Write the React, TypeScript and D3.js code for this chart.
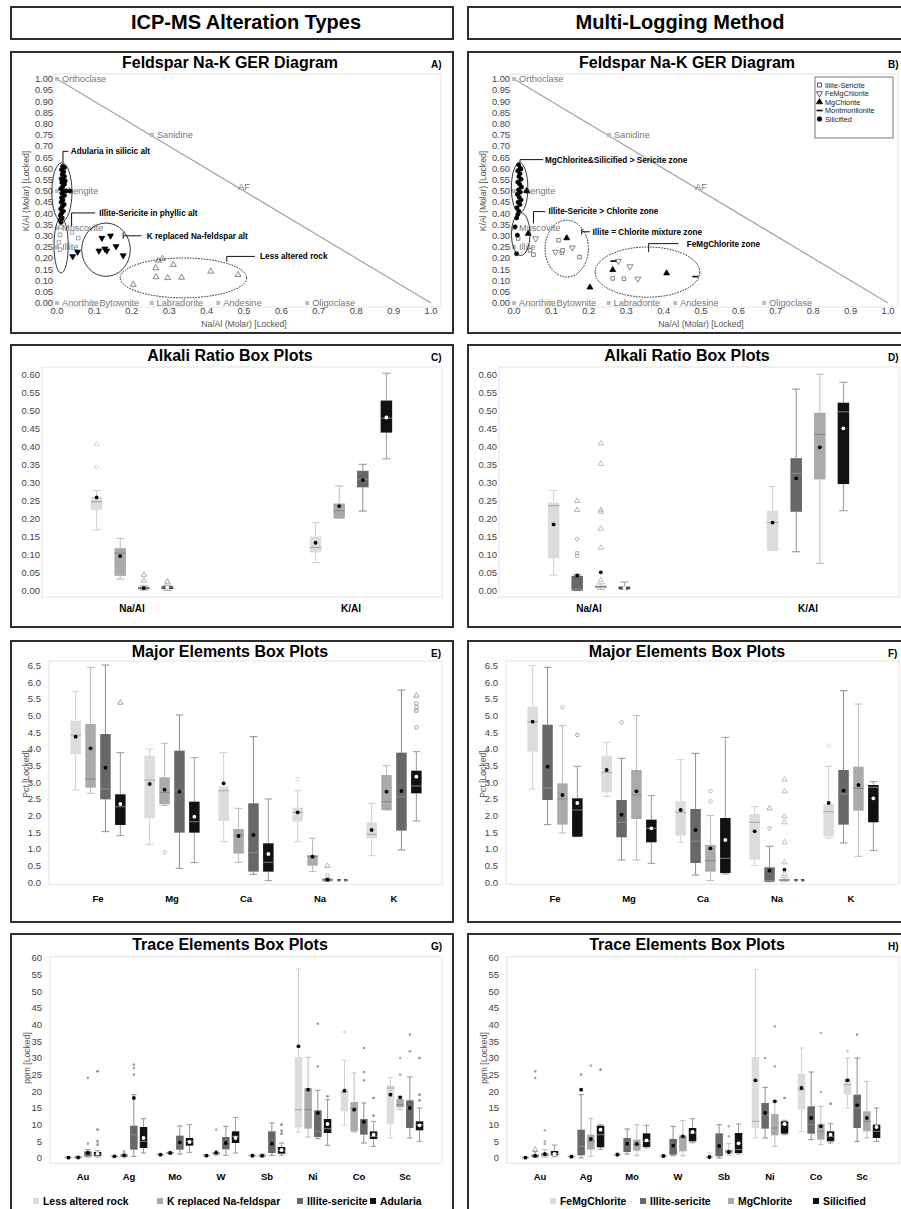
import React from 'react';
import * as d3 from 'd3';

const FONT = "'Liberation Sans', Arial, Helvetica, sans-serif";

// ---------- categories, series, tick labels
const icpSeries = ['Less altered rock', 'K replaced Na-feldspar', 'Illite-sericite', 'Adularia'];
const logSeries = ['FeMgChlorite', 'Illite-sericite', 'MgChlorite', 'Silicified'];
const alkaliCats = ['Na/Al', 'K/Al'];
const majorCats = ['Fe', 'Mg', 'Ca', 'Na', 'K'];
const traceCats = ['Au', 'Ag', 'Mo', 'W', 'Sb', 'Ni', 'Co', 'Sc'];

const gerXTicks = [0, 0.1, 0.2, 0.3, 0.4, 0.5, 0.6, 0.7, 0.8, 0.9, 1.0];
const gerYTicks = [0, 0.05, 0.1, 0.15, 0.2, 0.25, 0.3, 0.35, 0.4, 0.45, 0.5, 0.55, 0.6, 0.65, 0.7, 0.75, 0.8, 0.85, 0.9, 0.95, 1.0];
const alkaliTicks = [0, 0.05, 0.1, 0.15, 0.2, 0.25, 0.3, 0.35, 0.4, 0.45, 0.5, 0.55, 0.6];
const majorTicks = [0, 0.5, 1, 1.5, 2, 2.5, 3, 3.5, 4, 4.5, 5, 5.5, 6, 6.5];
const traceTicks = [0, 5, 10, 15, 20, 25, 30, 35, 40, 45, 50, 55, 60];

// ---------- feldspar end members  [name, Na/Al, K/Al]
const minerals: [string, number, number][] = [
  ['Orthoclase', 0, 1], ['Sanidine', 0.254, 0.75], ['Phengite', 0, 0.5], ['Muscovite', 0, 0.333],
  ['Illite', 0, 0.25], ['Anorthite', 0, 0], ['Bytownite', 0.1, 0], ['Labradorite', 0.253, 0],
  ['Andesine', 0.431, 0], ['Oligoclase', 0.669, 0],
];

// ---------- GER scatter, ICP-MS (panel A)  [Na/Al, K/Al]
const adulariaPts = [
  [0.015, 0.61], [0.02, 0.605], [0.012, 0.595], [0.018, 0.585], [0.014, 0.575], [0.02, 0.565], [0.011, 0.555],
  [0.017, 0.548], [0.013, 0.538], [0.02, 0.53], [0.015, 0.52], [0.01, 0.51], [0.018, 0.5], [0.013, 0.49],
  [0.02, 0.48], [0.012, 0.47], [0.016, 0.46], [0.011, 0.45], [0.019, 0.44], [0.014, 0.43], [0.01, 0.42],
  [0.017, 0.41], [0.012, 0.4], [0.009, 0.39], [0.014, 0.38], [0.008, 0.37], [0.011, 0.36], [0.035, 0.5],
  [0.022, 0.545], [0.025, 0.5],
];
const illiteSericitePtsA = [[0.008, 0.305], [0.008, 0.238], [0.04, 0.315], [0.057, 0.29], [0.005, 0.27], [0.01, 0.34]];
const kReplacedPts = [
  [0.042, 0.208], [0.055, 0.228], [0.112, 0.233], [0.12, 0.29], [0.128, 0.242], [0.133, 0.233],
  [0.143, 0.3], [0.158, 0.253], [0.177, 0.212],
];
const lessAlteredPts = [
  [0.264, 0.156], [0.265, 0.116], [0.296, 0.112], [0.311, 0.171], [0.333, 0.114], [0.411, 0.141],
  [0.484, 0.126], [0.271, 0.19], [0.282, 0.198], [0.204, 0.082],
];

// ---------- GER scatter, multi-logging (panel B)
const silicifiedPts = [
  [0.012, 0.617], [0.018, 0.6], [0.01, 0.59], [0.016, 0.578], [0.013, 0.565], [0.019, 0.552], [0.01, 0.54],
  [0.015, 0.53], [0.02, 0.518], [0.012, 0.505], [0.017, 0.495], [0.009, 0.485], [0.014, 0.472], [0.019, 0.46],
  [0.011, 0.45], [0.016, 0.44], [0.008, 0.425], [0.013, 0.41], [0.01, 0.395], [0.007, 0.38],
  [0.003, 0.34], [0.009, 0.303], [0.007, 0.22],
];
const mgChloritePts = [[0.016, 0.6], [0.034, 0.5], [0.038, 0.31], [0.141, 0.29], [0.264, 0.148], [0.408, 0.133], [0.203, 0.07]];
const montmorillonitePts = [[0.266, 0.187], [0.485, 0.118]];
const illiteSericitePtsB = [
  [0.119, 0.28], [0.128, 0.225], [0.175, 0.205], [0.264, 0.11], [0.294, 0.108], [0.043, 0.235],
  [0.052, 0.216], [0.011, 0.288], [0.13, 0.235],
];
const feMgChloritePts = [[0.058, 0.288], [0.111, 0.228], [0.156, 0.247], [0.279, 0.187], [0.31, 0.163], [0.331, 0.108]];

// ---------- box statistics  [cat][series] = [low, q1, median, q3, high, mean]
type Stat = number[];
const alkaliIcp: Stat[][] = [
  [[0.17, 0.225, 0.248, 0.262, 0.279, 0.26], [0.033, 0.042, 0.105, 0.119, 0.146, 0.097], [0.003, 0.005, 0.008, 0.011, 0.014, 0.008], [0.002, 0.006, 0.01, 0.013, 0.016, 0.01]],
  [[0.079, 0.107, 0.121, 0.151, 0.19, 0.134], [0.202, 0.202, 0.223, 0.243, 0.292, 0.236], [0.222, 0.288, 0.31, 0.334, 0.352, 0.308], [0.367, 0.44, 0.48, 0.529, 0.605, 0.482]],
];
const alkaliLog: Stat[][] = [
  [[0.044, 0.091, 0.237, 0.246, 0.279, 0.185], [0.001, 0.001, 0.005, 0.042, 0.045, 0.043], [0.004, 0.008, 0.012, 0.015, 0.02, 0.052], [0.004, 0.005, 0.008, 0.012, 0.025, 0.008]],
  [[0.112, 0.112, 0.19, 0.223, 0.29, 0.19], [0.109, 0.22, 0.327, 0.369, 0.561, 0.313], [0.077, 0.31, 0.435, 0.495, 0.602, 0.399], [0.223, 0.297, 0.498, 0.523, 0.58, 0.452]],
];
const majorIcp: Stat[][] = [
  [[2.77, 3.84, 4.42, 4.85, 5.72, 4.37], [2.67, 2.84, 3.1, 4.75, 6.45, 4.02], [1.52, 2.49, 2.8, 4.45, 6.52, 3.44], [1.4, 1.72, 2.27, 2.64, 3.89, 2.35]],
  [[1.14, 1.92, 3.07, 3.8, 4.0, 2.95], [2.3, 2.34, 2.7, 3.15, 4.17, 2.78], [0.42, 1.49, 2.75, 3.95, 5.02, 2.72], [0.59, 1.49, 1.82, 2.42, 3.74, 1.97]],
  [[1.22, 1.84, 2.75, 2.87, 3.89, 2.97], [0.6, 0.86, 1.42, 1.6, 2.22, 1.39], [0.24, 0.32, 0.89, 2.37, 4.37, 1.42], [0.05, 0.32, 0.6, 1.17, 2.5, 0.85]],
  [[1.22, 1.82, 2.1, 2.24, 2.75, 2.1], [0.32, 0.5, 0.77, 0.82, 1.32, 0.77], [0.03, 0.05, 0.07, 0.1, 0.12, 0.08], [0.03, 0.04, 0.05, 0.06, 0.07, 0.05]],
  [[0.8, 1.32, 1.44, 1.8, 2.37, 1.57], [2.17, 2.17, 2.42, 3.22, 3.5, 2.72], [0.97, 1.55, 2.57, 3.89, 5.77, 2.74], [1.84, 2.67, 2.89, 3.35, 3.92, 3.17]],
];
const majorLog: Stat[][] = [
  [[2.8, 3.92, 4.82, 5.27, 6.5, 4.82], [1.73, 2.47, 2.83, 4.73, 6.45, 3.47], [1.48, 1.73, 2.5, 2.97, 4.7, 2.62], [1.37, 1.37, 2.17, 2.52, 3.48, 2.38]],
  [[2.58, 2.7, 3.3, 3.8, 4.2, 3.37], [0.67, 1.35, 1.8, 2.47, 3.72, 2.03], [0.67, 1.9, 2.62, 3.37, 5.0, 2.73], [0.57, 1.2, 1.62, 1.88, 2.6, 1.62]],
  [[1.2, 1.4, 2.1, 2.43, 3.68, 2.17], [0.22, 0.58, 1.23, 2.2, 3.87, 1.57], [0.05, 0.32, 0.65, 1.12, 2.0, 1.02], [0.25, 0.28, 0.72, 1.93, 4.35, 1.27]],
  [[0.5, 0.68, 1.8, 2.05, 2.27, 1.53], [0.02, 0.02, 0.05, 0.45, 1.08, 0.35], [0.02, 0.04, 0.07, 0.1, 0.15, 0.38], [0.03, 0.04, 0.05, 0.06, 0.07, 0.05]],
  [[1.33, 1.38, 2.12, 2.35, 3.48, 2.38], [1.18, 1.73, 2.65, 3.37, 5.75, 2.75], [0.78, 2.15, 2.82, 3.47, 5.35, 2.92], [0.95, 1.8, 2.85, 2.92, 3.02, 2.52]],
];
const traceIcp: Stat[][] = [
  [[0, 0.05, 0.1, 0.15, 0.2, 0.1], [0.05, 0.1, 0.15, 0.25, 0.3, 0.15], [0.3, 0.5, 1.0, 2.0, 2.5, 1.5], [0.3, 0.6, 1.0, 1.8, 2.2, 1.3]],
  [[0.2, 0.3, 0.5, 0.7, 0.9, 0.5], [0.2, 0.3, 0.7, 1.2, 1.5, 0.8], [0.5, 2.5, 7, 9.7, 19, 18], [1.5, 3, 5, 9.3, 11.8, 6]],
  [[0.7, 0.8, 1.0, 1.2, 1.3, 1.0], [1.2, 1.3, 1.5, 1.8, 1.9, 1.5], [1.2, 2.5, 5, 6.7, 9.6, 4.7], [1.7, 3.7, 5, 6, 10, 4.8]],
  [[0.4, 0.5, 0.7, 0.9, 1.0, 0.7], [0.8, 1.0, 1.4, 1.8, 2.3, 1.6], [0.8, 2.6, 4.7, 6.3, 9.5, 4.5], [1.5, 4.5, 6.5, 8, 12.2, 6]],
  [[0.3, 0.5, 0.7, 0.9, 1.2, 0.7], [0.3, 0.5, 0.7, 1.0, 1.2, 0.7], [0.8, 1.5, 4.5, 8, 10.5, 4.3], [0.8, 1.3, 2.2, 3.3, 4.5, 2.4]],
  [[7.8, 9.2, 14.5, 30.3, 56.7, 33.5], [6.3, 8.8, 14.5, 21, 30.2, 20.5], [5.8, 6.3, 8, 14.3, 20.3, 13.5], [3.8, 7.5, 8.8, 11.7, 17.5, 10.2]],
  [[9.8, 14, 19.8, 20.3, 29.3, 20.2], [7.8, 8, 15, 16.8, 25.5, 14.5], [4.5, 7, 10.5, 11.7, 16.5, 10.8], [3.5, 5.7, 6.5, 8, 11, 7]],
  [[6, 10.2, 21, 21.8, 24.2, 19], [14.5, 15.2, 16, 17.7, 18.5, 18.2], [6, 9, 15, 17.3, 24.3, 15], [5, 8.3, 10, 11, 15, 9.8]],
];
const traceLog: Stat[][] = [
  [[0, 0.05, 0.1, 0.15, 0.2, 0.1], [0.1, 0.3, 0.6, 1.0, 2.0, 0.7], [0.2, 0.5, 0.9, 1.5, 2.5, 1.2], [0.4, 0.8, 1.3, 2.1, 3.9, 1.2]],
  [[0.1, 0.2, 0.4, 0.6, 0.8, 0.4], [0, 0.8, 3.5, 8.5, 19, 20.5], [0.5, 2.5, 5, 7, 11.8, 5.7], [2.6, 3.2, 7, 9.7, 10, 8.5]],
  [[0.6, 0.8, 1.0, 1.2, 1.7, 1.0], [1.2, 1.8, 4.5, 6, 8.7, 4.3], [0.7, 2.2, 4, 5.5, 10, 4.2], [3, 3.3, 5, 7.4, 9.8, 5.3]],
  [[0.3, 0.4, 0.6, 0.9, 1.1, 0.6], [0.7, 1, 3.5, 5.7, 9.5, 3.7], [0.7, 2, 6, 6.8, 11.2, 6.5], [4.6, 5, 7.5, 9, 11.8, 7.8]],
  [[0.1, 0.2, 0.3, 0.5, 1.5, 0.3], [0, 0.5, 3.5, 7.4, 10, 3.6], [0.8, 1.3, 2, 2.5, 4.3, 1.8], [1.2, 1.5, 2.5, 7.5, 10.2, 4.4]],
  [[6, 9, 11, 30.3, 56.5, 23.3], [6, 8.8, 13, 16.5, 21.2, 13.5], [3.5, 6.8, 9, 13.2, 17, 17], [7, 7.3, 10, 11, 11.3, 10.2]],
  [[8, 14.5, 20.5, 25.3, 33, 21], [5.5, 7.3, 10, 15.5, 25.8, 12], [4, 5.5, 8, 10.3, 15.5, 9.5], [4.5, 5, 6.5, 8, 10.3, 7]],
  [[15, 19, 22, 24, 30, 23.3], [5, 9, 15, 19, 30, 15.8], [6, 8, 11, 14, 23, 12], [5, 6, 8, 10, 15, 9.3]],
];

// ---------- outliers  [category, series index, value, marker]
type Outlier = [string, number, number, string];
const alkaliIcpOut: Outlier[] = [
  ['Na/Al', 0, 0.408, 'tri'], ['Na/Al', 0, 0.345, 'circ'], ['Na/Al', 2, 0.045, 'tri'], ['Na/Al', 2, 0.029, 'tri'], ['Na/Al', 3, 0.026, 'tri'],
];
const alkaliLogOut: Outlier[] = [
  ['Na/Al', 1, 0.25, 'tri'], ['Na/Al', 1, 0.225, 'tri'], ['Na/Al', 1, 0.144, 'circ'], ['Na/Al', 1, 0.105, 'sq'], ['Na/Al', 1, 0.097, 'circ'],
  ['Na/Al', 2, 0.41, 'tri'], ['Na/Al', 2, 0.353, 'tri'], ['Na/Al', 2, 0.225, 'tri'], ['Na/Al', 2, 0.22, 'tri'], ['Na/Al', 2, 0.173, 'tri'],
  ['Na/Al', 2, 0.12, 'tri'], ['Na/Al', 2, 0.03, 'tri'],
];
const majorIcpOut: Outlier[] = [
  ['Fe', 3, 5.39, 'tri'], ['Mg', 1, 0.9, 'circ'], ['Na', 0, 3.1, 'circ'], ['Na', 2, 0.49, 'tri'], ['Na', 2, 0.2, 'circ'],
  ['K', 3, 5.6, 'tri'], ['K', 3, 5.37, 'circ'], ['K', 3, 5.25, 'circ'], ['K', 3, 5.15, 'sq'], ['K', 3, 4.65, 'circ'],
];
const majorLogOut: Outlier[] = [
  ['Fe', 2, 5.25, 'circ'], ['Fe', 3, 4.42, 'circ'], ['Mg', 1, 4.8, 'circ'], ['Ca', 2, 2.73, 'circ'], ['Ca', 2, 2.43, 'circ'],
  ['Na', 1, 2.22, 'tri'], ['Na', 1, 1.62, 'circ'], ['Na', 2, 3.08, 'tri'], ['Na', 2, 2.73, 'tri'], ['Na', 2, 1.98, 'tri'],
  ['Na', 2, 1.8, 'tri'], ['Na', 2, 1.2, 'tri'], ['Na', 2, 0.6, 'tri'], ['Na', 2, 0.25, 'tri'], ['K', 0, 4.1, 'circ'],
];
const traceIcpOut: Outlier[] = [
  ['Au', 2, 24, 'dot'], ['Au', 2, 4.3, 'dot'], ['Au', 3, 26, 'dot'], ['Au', 3, 8.5, 'dot'], ['Au', 3, 5, 'dot'], ['Au', 3, 4, 'dot'],
  ['Ag', 1, 2, 'dot'], ['Ag', 2, 28, 'dot'], ['Ag', 2, 27, 'dot'], ['Ag', 2, 25, 'dot'], ['W', 1, 8.5, 'dot'],
  ['Sb', 3, 10, 'dot'], ['Sb', 3, 8.2, 'dot'], ['Sb', 3, 7.3, 'dot'], ['Ni', 2, 40.3, 'dot'], ['Ni', 2, 27.5, 'dot'],
  ['Ni', 3, 18.5, 'dot'], ['Co', 0, 37.8, 'dot'], ['Co', 2, 33, 'dot'], ['Co', 2, 25.8, 'dot'], ['Co', 2, 23.3, 'dot'],
  ['Co', 3, 18, 'dot'], ['Co', 3, 12.7, 'dot'], ['Sc', 1, 30, 'dot'], ['Sc', 1, 25, 'dot'], ['Sc', 2, 37, 'dot'],
  ['Sc', 2, 32, 'dot'], ['Sc', 3, 30, 'dot'], ['Sc', 3, 19, 'dot'], ['Sc', 3, 17.3, 'dot'],
];
const traceLogOut: Outlier[] = [
  ['Au', 1, 26, 'dot'], ['Au', 1, 24, 'dot'], ['Au', 1, 2.5, 'tri'], ['Au', 2, 8.3, 'dot'], ['Au', 2, 5, 'dot'], ['Au', 2, 4.2, 'dot'],
  ['Ag', 1, 25, 'dot'], ['Ag', 2, 27.7, 'dot'], ['Ag', 3, 26.5, 'dot'], ['Sb', 2, 9.5, 'dot'], ['Sb', 2, 6.5, 'dot'],
  ['Ni', 1, 30, 'dot'], ['Ni', 2, 39.5, 'dot'], ['Ni', 2, 27.5, 'dot'], ['Ni', 3, 18, 'dot'], ['Co', 2, 37.5, 'dot'],
  ['Co', 2, 19.8, 'dot'], ['Co', 3, 16.3, 'dot'], ['Sc', 0, 32, 'dot'], ['Sc', 1, 37, 'dot'],
];

// ---------- grey shades
const LIGHT = { fill: '#dcdcdc', whisker: '#d0d0d0', median: '#aaaaaa', mean: '#000', out: '#cbcbcb' };
const MID = { fill: '#aaaaaa', whisker: '#bcbcbc', median: '#888888', mean: '#000', out: '#b0b0b0' };
const DARK = { fill: '#686868', whisker: '#8e8e8e', median: '#8a8a8a', mean: '#000', out: '#a0a0a0' };
const BLACK = { fill: '#111111', whisker: '#9a9a9a', median: '#777777', mean: '#fff', out: '#8a8a8a' };
const icpShades = [LIGHT, MID, DARK, BLACK];
const logShades = [LIGHT, DARK, MID, BLACK];

const symPath = (type: any, size: number) => d3.symbol().type(type).size(size)() as string;

function Marker({ x, y, shape, color, filled }: any) {
  if (shape === 'circ') return <circle cx={x} cy={y} r={1.8} fill="none" stroke={color} strokeWidth={0.8} />;
  if (shape === 'dot') return <circle cx={x} cy={y} r={1.3} fill={color} />;
  const type = shape === 'sq' ? d3.symbolSquare : d3.symbolTriangle;
  return (
    <path d={symPath(type, shape === 'sq' ? 10 : 12)} transform={`translate(${x},${y})`}
      fill={filled ? color : 'none'} stroke={color} strokeWidth={0.8} />
  );
}

function Frame({ w, h }: { w: number; h: number }) {
  return <rect x={0} y={0} width={w} height={h} fill="#fff" stroke="#2e2e2e" strokeWidth={2} />;
}

function Title({ text, letter }: { text: string; letter: string }) {
  return (
    <g fontFamily={FONT} fontWeight="bold">
      <text x={219} y={16} fontSize={16} textAnchor="middle">{text}</text>
      <text x={420} y={16} fontSize={10}>{letter}</text>
    </g>
  );
}

// ---------- GER diagram panel
function GerPanel({ ox, oy, letter, groups, ellipses, callouts, legend }: any) {
  const x = d3.scaleLinear().domain([0, 1]).range([46, 420]);
  const y = d3.scaleLinear().domain([0, 1]).range([251, 27]);
  const line = d3.line<number[]>().x(d => x(d[0])).y(d => y(d[1]));
  const shapeType = (s: string) => (s === 'circle' ? d3.symbolCircle : s === 'square' ? d3.symbolSquare : d3.symbolTriangle);
  return (
    <g transform={`translate(${ox},${oy})`} fontFamily={FONT}>
      <Frame w={442} h={281} />
      <rect x={42} y={22} width={388} height={233} fill="none" stroke="#e4e4e4" />
      <Title text="Feldspar Na-K GER Diagram" letter={letter} />
      <line x1={x(0)} y1={y(1)} x2={x(1)} y2={y(0)} stroke="#a3a3a3" strokeWidth={1.2} />
      <text x={x(0.484)} y={y(0.52)} dy="0.35em" fontSize={9.5} fill="#777">AF</text>
      {minerals.map(([name, a, b]) => (
        <g key={name}>
          <rect x={x(a) - 2} y={y(b) - 2} width={4} height={4} fill="#bdbdbd" />
          <text x={x(a) + 5} y={y(b)} dy="0.3em" fontSize={9.2} fill="#777">{name}</text>
        </g>
      ))}
      {groups.map((gr: any, gi: number) => gr.pts.map((p: number[], i: number) => {
        const px = x(p[0]), py = y(p[1]);
        if (gr.shape === 'dash') return <line key={gi + '-' + i} x1={px - 3} x2={px + 3} y1={py} y2={py} stroke="#000" strokeWidth={1.6} />;
        return (
          <path key={gi + '-' + i} d={symPath(shapeType(gr.shape), gr.size)}
            transform={`translate(${px},${py})${gr.down ? ' rotate(180)' : ''}`}
            fill={gr.fill} stroke={gr.stroke} strokeWidth={0.8} />
        );
      }))}
      {ellipses.map((e: any, i: number) => (
        <ellipse key={i} cx={x(e.cx)} cy={y(e.cy)} rx={x(e.rx) - x(0)} ry={y(0) - y(e.ry)}
          fill="none" stroke="#222" strokeWidth={e.dash ? 1 : 0.9} strokeDasharray={e.dash || undefined} />
      ))}
      {callouts.map((c: any, i: number) => (
        <g key={i}>
          {c.lines.map((l: number[][], j: number) => (
            <path key={j} d={line(l) as string} fill="none" stroke="#111" strokeWidth={1} />
          ))}
          <text x={x(c.at[0])} y={y(c.at[1])} dy="0.35em" fontSize={8.2} fontWeight="bold">{c.label}</text>
        </g>
      ))}
      {gerYTicks.map(t => (
        <text key={t} x={42} y={y(t)} dy="0.35em" textAnchor="end" fontSize={9.3} fill="#444">{d3.format('.2f')(t)}</text>
      ))}
      {gerXTicks.map(t => (
        <text key={t} x={x(t)} y={262} textAnchor="middle" fontSize={9.3} fill="#444">{d3.format('.1f')(t)}</text>
      ))}
      <text x={x(0.5)} y={275} textAnchor="middle" fontSize={8.6} fill="#555">Na/Al (Molar) [Locked]</text>
      <text transform={`translate(15,${y(0.5)}) rotate(-90)`} textAnchor="middle" dy="0.35em" fontSize={8.6} fill="#555">K/Al (Molar) [Locked]</text>
      {legend && (
        <g>
          <rect x={347} y={25} width={78} height={61} fill="#fff" stroke="#555" strokeWidth={0.8} />
          {legend.map((it: any, i: number) => {
            const ly = 33 + i * 8.5;
            const mark = it.shape === 'dash'
              ? <line x1={348.5} x2={354.5} y1={ly} y2={ly} stroke="#000" strokeWidth={1.6} />
              : <path d={symPath(shapeType(it.shape), 16)} transform={`translate(351.5,${ly})${it.down ? ' rotate(180)' : ''}`} fill={it.fill} stroke={it.stroke} strokeWidth={0.8} />;
            return (
              <g key={it.label}>
                {mark}
                <text x={357} y={ly} dy="0.35em" fontSize={7.3} fill="#222">{it.label}</text>
              </g>
            );
          })}
        </g>
      )}
    </g>
  );
}

// ---------- box plot panel
function BoxPanel(p: any) {
  const y = d3.scaleLinear().domain([p.ticks[0], p.ticks[p.ticks.length - 1]]).range(p.yRange);
  const xc = d3.scalePoint().domain(p.cats).range(p.catRange);
  const xs = d3.scaleBand<number>().domain([0, 1, 2, 3]).range([-2 * p.step, 2 * p.step]);
  const cxOf = (c: string, si: number) => (xc(c) as number) + (xs(si) as number) + xs.bandwidth() / 2;
  const bw = p.boxW, cap = p.boxW * 0.72;
  const [fx0, fy0, fx1, fy1] = p.plotFrame;
  return (
    <g transform={`translate(${p.ox},${p.oy})`} fontFamily={FONT}>
      <Frame w={442} h={p.h} />
      <rect x={fx0} y={fy0} width={fx1 - fx0} height={fy1 - fy0} fill="none" stroke="#e4e4e4" />
      <Title text={p.title} letter={p.letter} />
      {p.ticks.map((t: number) => (
        <text key={t} x={p.tickX} y={y(t)} dy="0.35em" textAnchor="end" fontSize={9.5} fill="#444">{d3.format(p.fmt)(t)}</text>
      ))}
      {p.yTitle && (
        <text transform={`translate(${p.yTitleX},${(p.yRange[0] + p.yRange[1]) / 2}) rotate(-90)`} textAnchor="middle" dy="0.35em" fontSize={8.6} fill="#555">{p.yTitle}</text>
      )}
      {p.cats.map((c: string, ci: number) => p.stats[ci].map((s: Stat, si: number) => {
        const sh = p.shades[si];
        const cx = cxOf(c, si);
        const [lo, q1, med, q3, hi, mean] = s;
        const top = y(q3), bot = y(q1);
        return (
          <g key={c + si}>
            <line x1={cx} x2={cx} y1={y(hi)} y2={top} stroke={sh.whisker} strokeWidth={1} />
            <line x1={cx} x2={cx} y1={bot} y2={y(lo)} stroke={sh.whisker} strokeWidth={1} />
            <line x1={cx - cap / 2} x2={cx + cap / 2} y1={y(hi)} y2={y(hi)} stroke={sh.whisker} strokeWidth={1} />
            <line x1={cx - cap / 2} x2={cx + cap / 2} y1={y(lo)} y2={y(lo)} stroke={sh.whisker} strokeWidth={1} />
            <rect x={cx - bw / 2} y={Math.min(top, bot - 1.6)} width={bw} height={Math.max(1.6, bot - top)} fill={sh.fill} />
            <line x1={cx - bw / 2} x2={cx + bw / 2} y1={y(med)} y2={y(med)} stroke={sh.median} strokeWidth={1.1} />
            <circle cx={cx} cy={y(mean)} r={1.9} fill={sh.mean} />
          </g>
        );
      }))}
      {p.outliers.map((o: Outlier, i: number) => (
        <Marker key={i} x={cxOf(o[0], o[1])} y={y(o[2])} shape={o[3]} color={p.shades[o[1]].out} />
      ))}
      {p.cats.map((c: string) => (
        <text key={c} x={xc(c)} y={p.labelY} textAnchor="middle" fontSize={p.catFont} fontWeight="bold">{c}</text>
      ))}
      {p.legend && p.series.map((s: string, i: number) => (
        <g key={s}>
          <rect x={p.legend[i]} y={p.legendY - 3} width={6} height={6} fill={p.shades[i].fill} />
          <text x={p.legend[i] + 10} y={p.legendY} dy="0.35em" fontSize={10.4} fontWeight="bold">{s}</text>
        </g>
      ))}
    </g>
  );
}

// ---------- GER annotations (layout)
const gerAGroups = [
  { pts: illiteSericitePtsA, shape: 'square', size: 13, fill: '#fff', stroke: '#8a8a8a' },
  { pts: lessAlteredPts, shape: 'tri', size: 15, fill: 'none', stroke: '#6a6a6a' },
  { pts: kReplacedPts, shape: 'tri', size: 15, fill: '#000', stroke: '#000', down: true },
  { pts: adulariaPts, shape: 'circle', size: 13, fill: '#000', stroke: '#000' },
];
const gerAEllipses = [
  { cx: 0.013, cy: 0.495, rx: 0.027, ry: 0.131 },
  { cx: 0.011, cy: 0.257, rx: 0.019, ry: 0.123 },
  { cx: 0.131, cy: 0.238, rx: 0.065, ry: 0.119 },
  { cx: 0.338, cy: 0.112, rx: 0.169, ry: 0.089, dash: '1.6 1.2' },
];
const gerACallouts = [
  { lines: [[[0.016, 0.626], [0.016, 0.677], [0.03, 0.677]]], label: 'Adularia in silicic alt', at: [0.037, 0.677] },
  { lines: [[[0.039, 0.342], [0.039, 0.402], [0.102, 0.402]]], label: 'Illite-Sericite in phyllic alt', at: [0.113, 0.402] },
  { lines: [[[0.177, 0.315], [0.177, 0.287]], [[0.177, 0.3], [0.226, 0.3]]], label: 'K replaced Na-feldspar alt', at: [0.24, 0.3] },
  { lines: [[[0.454, 0.185], [0.454, 0.208], [0.529, 0.208]]], label: 'Less altered rock', at: [0.543, 0.208] },
];
const gerBGroups = [
  { pts: illiteSericitePtsB, shape: 'square', size: 13, fill: '#fff', stroke: '#666' },
  { pts: feMgChloritePts, shape: 'tri', size: 15, fill: '#fff', stroke: '#666', down: true },
  { pts: mgChloritePts, shape: 'tri', size: 15, fill: '#000', stroke: '#000' },
  { pts: montmorillonitePts, shape: 'dash' },
  { pts: silicifiedPts, shape: 'circle', size: 13, fill: '#000', stroke: '#000' },
];
const gerBEllipses = [
  { cx: 0.015, cy: 0.514, rx: 0.022, ry: 0.112 },
  { cx: 0.018, cy: 0.307, rx: 0.025, ry: 0.095 },
  { cx: 0.141, cy: 0.243, rx: 0.058, ry: 0.127, dash: '1.6 1.2' },
  { cx: 0.357, cy: 0.138, rx: 0.14, ry: 0.112, dash: '1.6 1.2' },
];
const gerBCallouts = [
  { lines: [[[0.016, 0.626], [0.016, 0.64], [0.078, 0.64]]], label: 'MgChlorite&Silicified > Sericite zone', at: [0.083, 0.64] },
  { lines: [[[0.052, 0.355], [0.052, 0.408], [0.083, 0.408]]], label: 'Illite-Sericite > Chlorite zone', at: [0.092, 0.408] },
  { lines: [[[0.181, 0.33], [0.181, 0.305]], [[0.181, 0.318], [0.203, 0.318]]], label: 'Illite = Chlorite mixture zone', at: [0.21, 0.318] },
  { lines: [[[0.36, 0.228], [0.36, 0.265], [0.44, 0.265]]], label: 'FeMgChlorite zone', at: [0.462, 0.265] },
];
const gerBLegend = [
  { label: 'Illite-Sericite', shape: 'square', fill: '#fff', stroke: '#333' },
  { label: 'FeMgChlorite', shape: 'tri', fill: '#fff', stroke: '#333', down: true },
  { label: 'MgChlorite', shape: 'tri', fill: '#000', stroke: '#000' },
  { label: 'Montmorillonite', shape: 'dash' },
  { label: 'Silicified', shape: 'circle', fill: '#000', stroke: '#000' },
];

const alkaliLayout = { h: 282, catRange: [121, 340], step: 23.6, boxW: 11.5, yRange: [246, 30], plotFrame: [31, 22, 431, 252], tickX: 29, labelY: 267, catFont: 10, fmt: '.2f', ticks: alkaliTicks, cats: alkaliCats };
const majorLayout = { h: 281, catRange: [87, 383], step: 14.9, boxW: 10.5, yRange: [241.3, 24.7], plotFrame: [38, 20, 431, 243.3], tickX: 30, labelY: 261, catFont: 9.5, fmt: '.1f', ticks: majorTicks, cats: majorCats, yTitle: 'Pct [Locked]', yTitleX: 15 };
const traceLayout = { h: 292, catRange: [72, 394], step: 9.7, boxW: 7.5, yRange: [224, 24], plotFrame: [39, 22.7, 431, 229.3], tickX: 31, labelY: 246, catFont: 9.5, fmt: 'd', ticks: traceTicks, cats: traceCats, yTitle: 'ppm [Locked]', yTitleX: 16, legendY: 267 };

export default function App() {
  const L = 11, R = 468;
  return (
    <div style={{ position: 'absolute', left: 0, top: 0 }}>
      <svg width={901} height={1209} style={{ display: 'block', background: '#fff' }}>
        <g fontFamily={FONT} fontWeight="bold">
          <rect x={L} y={7} width={442} height={32} fill="#fff" stroke="#2e2e2e" strokeWidth={2} />
          <rect x={R} y={7} width={442} height={32} fill="#fff" stroke="#2e2e2e" strokeWidth={2} />
          <text x={246} y={29} fontSize={20} textAnchor="middle">ICP-MS Alteration Types</text>
          <text x={680} y={29} fontSize={20} textAnchor="middle">Multi-Logging Method</text>
        </g>
        <GerPanel ox={L} oy={52} letter="A)" groups={gerAGroups} ellipses={gerAEllipses} callouts={gerACallouts} />
        <GerPanel ox={R} oy={52} letter="B)" groups={gerBGroups} ellipses={gerBEllipses} callouts={gerBCallouts} legend={gerBLegend} />
        <BoxPanel ox={L} oy={345} {...alkaliLayout} title="Alkali Ratio Box Plots" letter="C)" stats={alkaliIcp} outliers={alkaliIcpOut} shades={icpShades} series={icpSeries} />
        <BoxPanel ox={R} oy={345} {...alkaliLayout} title="Alkali Ratio Box Plots" letter="D)" stats={alkaliLog} outliers={alkaliLogOut} shades={logShades} series={logSeries} />
        <BoxPanel ox={L} oy={641} {...majorLayout} title="Major Elements Box Plots" letter="E)" stats={majorIcp} outliers={majorIcpOut} shades={icpShades} series={icpSeries} />
        <BoxPanel ox={R} oy={641} {...majorLayout} title="Major Elements Box Plots" letter="F)" stats={majorLog} outliers={majorLogOut} shades={logShades} series={logSeries} />
        <BoxPanel ox={L} oy={934} {...traceLayout} title="Trace Elements Box Plots" letter="G)" stats={traceIcp} outliers={traceIcpOut} shades={icpShades} series={icpSeries} legend={[22, 146, 286, 359]} />
        <BoxPanel ox={R} oy={934} {...traceLayout} title="Trace Elements Box Plots" letter="H)" stats={traceLog} outliers={traceLogOut} shades={logShades} series={logSeries} legend={[82, 172, 260, 345]} />
      </svg>
    </div>
  );
}
